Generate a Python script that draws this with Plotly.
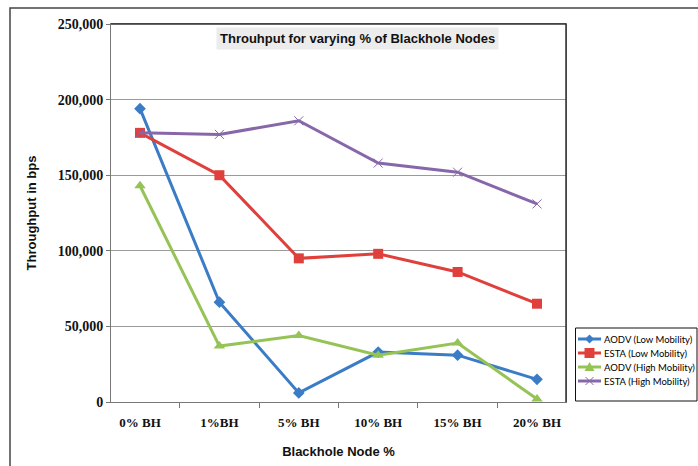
import plotly.graph_objects as go

# Blackhole node percentage categories
categories = ["0% BH", "1%BH", "5% BH", "10% BH", "15% BH", "20% BH"]

# Throughput (bps) per protocol / mobility scenario
aodv_low = [194000, 66000, 6000, 33000, 31000, 15000]
esta_low = [178000, 150000, 95000, 98000, 86000, 65000]
aodv_high = [143000, 37000, 44000, 31000, 39000, 2000]
esta_high = [178000, 177000, 186000, 158000, 152000, 131000]

y_ticks = [0, 50000, 100000, 150000, 200000, 250000]

series = [
    ("AODV (Low Mobility)", aodv_low, "#3a7cc6", "diamond", 9, 0),
    ("ESTA (Low Mobility)", esta_low, "#e0403c", "square", 10, 0),
    ("AODV (High Mobility)", aodv_high, "#95c356", "triangle-up", 10, 0),
    ("ESTA (High Mobility)", esta_high, "#8767aa", "x-thin", 9, 1),
]

# plot-area geometry (pixels)
ML, MR, MT, MB = 111, 132, 24, 64
PW, PH = 698 - ML - MR, 466 - MT - MB


def px_x(p):
    return (p - ML) / PW


def px_y(p):
    return (466 - MB - p) / PH


fig = go.Figure()
for name, vals, color, sym, size, mlw in series:
    fig.add_trace(go.Scatter(
        x=categories, y=vals, name=name, mode="lines+markers",
        line=dict(color=color, width=3),
        marker=dict(symbol=sym, size=size, color=color,
                    line=dict(color=color, width=mlw)),
        showlegend=False,
    ))

tick_font = dict(family="Liberation Serif", size=13, color="#111", weight="bold")
title_font = dict(family="Liberation Sans", size=13, color="#111", weight="bold")

fig.update_layout(
    width=698, height=466,
    margin=dict(l=ML, r=MR, t=MT, b=MB, autoexpand=False),
    paper_bgcolor="white", plot_bgcolor="white",
    xaxis=dict(
        type="category", showgrid=False, automargin=False,
        showline=True, linecolor="#777", linewidth=1, mirror=True,
        ticks="outside", tickson="boundaries", ticklen=5, tickcolor="#777",
        tickfont=tick_font, ticklabelstandoff=8,
        title=dict(text="Blackhole Node %", font=title_font, standoff=18),
    ),
    yaxis=dict(
        range=[0, 250000], tickvals=y_ticks, automargin=False,
        tickformat=",d",
        showgrid=True, gridcolor="#9a9a9a", gridwidth=1,
        showline=True, linecolor="#777", linewidth=1, mirror=True,
        ticks="outside", ticklen=4, tickcolor="#777",
        tickfont=dict(tick_font, size=14), zeroline=False,
        title=dict(text="Throughput in bps", font=title_font, standoff=18),
    ),
)

# plot-area right/top border drawn darker
fig.add_shape(type="line", xref="paper", yref="paper", x0=1, x1=1, y0=0, y1=1,
              line=dict(color="#333", width=1.5))
fig.add_shape(type="line", xref="paper", yref="paper", x0=0, x1=1, y0=1, y1=1,
              line=dict(color="#333", width=1.5))

# outer chart frame
fig.add_shape(type="rect", xref="paper", yref="paper",
              x0=px_x(10), x1=px_x(720), y0=px_y(490), y1=px_y(8),
              line=dict(color="#444", width=1.5), fillcolor="rgba(0,0,0,0)")

# chart title inside the plot area
fig.add_annotation(
    text="Throuhput for varying % of Blackhole Nodes",
    xref="paper", yref="paper", x=px_x(357), y=px_y(38),
    xanchor="center", yanchor="middle",
    showarrow=False, bgcolor="#ececec", borderpad=3,
    font=dict(family="Liberation Sans", size=13, color="#111", weight="bold"),
)

# legend box
fig.add_shape(type="rect", xref="paper", yref="paper",
              x0=px_x(575.5), x1=px_x(697), y0=px_y(401), y1=px_y(328),
              line=dict(color="#111", width=1), fillcolor="white")

# legend marker outlines (pixel offsets around the anchor point)
marker_paths = {
    "diamond": "M 0 4.5 L 4.5 0 L 0 -4.5 L -4.5 0 Z",
    "square": "M -5 -5 L 5 -5 L 5 5 L -5 5 Z",
    "triangle-up": "M -5 -4 L 5 -4 L 0 5 Z",
    "x-thin": "M -4 -4 L 4 4 M -4 4 L 4 -4",
}
row_y = [339, 353, 367, 381]
for (name, vals, color, sym, size, mlw), ry in zip(series, row_y):
    fig.add_shape(type="line", xref="paper", yref="paper",
                  x0=px_x(578), x1=px_x(601), y0=px_y(ry), y1=px_y(ry),
                  line=dict(color=color, width=3))
    filled = sym != "x-thin"
    fig.add_shape(type="path", xref="paper", yref="paper",
                  xsizemode="pixel", ysizemode="pixel",
                  xanchor=px_x(589.5), yanchor=px_y(ry),
                  path=marker_paths[sym],
                  fillcolor=color if filled else "rgba(0,0,0,0)",
                  line=dict(color=color, width=0 if filled else 1))
    fig.add_annotation(
        text=name, xref="paper", yref="paper", x=px_x(602), y=px_y(ry),
        xanchor="left", yanchor="middle", showarrow=False,
        font=dict(family="Lato", size=9.5, color="#000"),
    )

fig.write_html("out.html")
